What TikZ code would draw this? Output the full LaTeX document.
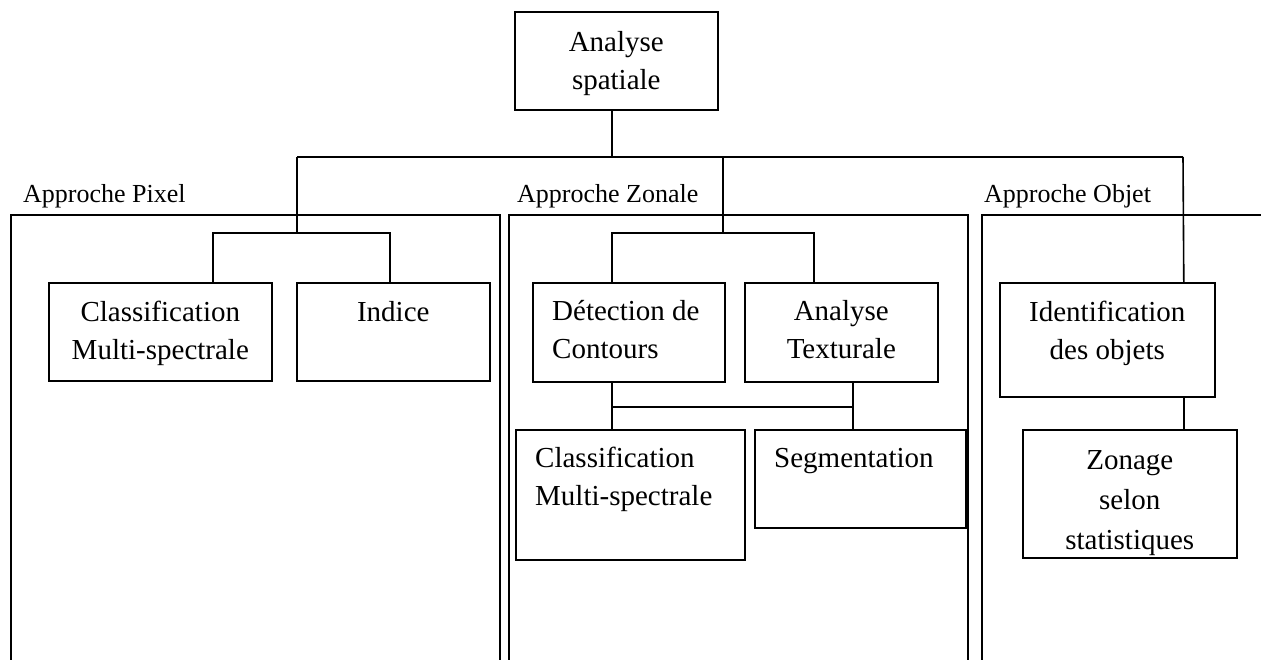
\documentclass[tikz,border=0pt]{standalone}
\usepackage{fontspec}
\setmainfont{Liberation Serif}
\begin{document}
\begin{tikzpicture}[x=1pt,y=-1pt,
  conn/.style={draw, line width=1.6pt},
  box/.style={draw, line width=1.6pt, inner sep=0pt, anchor=north west},
  txt/.style={font=\fontsize{29}{38}\selectfont, inner sep=0pt, align=center, anchor=north},
  ltxt/.style={font=\fontsize{29}{38}\selectfont, inner sep=0pt, align=left, anchor=north west},
  lab/.style={font=\fontsize{26}{30}\selectfont, inner sep=0pt, anchor=base west},
  frame/.style={draw, line width=1.6pt}]
\useasboundingbox (0,0) rectangle (1261,660);
\clip (0,0) rectangle (1261,660);

% panels (open at the bottom)
\draw[frame] (11,680) -- (11,215) -- (500,215) -- (500,680);
\draw[frame] (509,680) -- (509,215) -- (968,215) -- (968,680);
\draw[frame] (982,680) -- (982,215) -- (1280,215);
\node[lab] (lp) at (23,203) {Approche Pixel};
\node[lab] (lz) at (517,203) {Approche Zonale};
\node[lab] (lo) at (984,203) {Approche Objet};

% boxes
\node[box, minimum width=203pt, minimum height=98pt] (top) at (514,11) {};
\node[box, minimum width=223pt, minimum height=98pt] (cm1) at (48,282) {};
\node[box, minimum width=193pt, minimum height=98pt] (ind) at (296,282) {};
\node[box, minimum width=192pt, minimum height=99pt] (det) at (532,282) {};
\node[box, minimum width=193pt, minimum height=99pt] (tex) at (744,282) {};
\node[box, minimum width=229pt, minimum height=130pt] (cm2) at (515,429) {};
\node[box, minimum width=211pt, minimum height=98pt] (seg) at (754,429) {};
\node[box, minimum width=215pt, minimum height=114pt] (idt) at (999,282) {};
\node[box, minimum width=214pt, minimum height=128pt] (zon) at (1022,429) {};

% box texts
\node[txt] (ttop) at ([yshift=-14pt]top.north) {\strut Analyse\\spatiale};
\node[txt] (tcm1) at ([yshift=-13pt]cm1.north) {\strut Classification\\Multi-spectrale};
\node[txt] (tind) at ([yshift=-13pt]ind.north) {\strut Indice};
\node[ltxt] (tdet) at ([xshift=20pt,yshift=-12pt]det.north west) {\strut D\'etection de\\Contours};
\node[txt] (ttex) at ([yshift=-12pt]tex.north) {\strut Analyse\\Texturale};
\node[ltxt] (tcm2) at ([xshift=20pt,yshift=-12pt]cm2.north west) {\strut Classification\\Multi-spectrale};
\node[ltxt] (tseg) at ([xshift=20pt,yshift=-12pt]seg.north west) {\strut Segmentation};
\node[txt] (tidt) at ([yshift=-13pt]idt.north) {\strut Identification\\des objets};
\node[txt, font=\fontsize{29}{40}\selectfont] (tzon) at ([yshift=-12pt]zon.north) {\strut Zonage\\selon\\statistiques};

% bus coordinates
\coordinate (hp) at (297,157);
\coordinate (hz) at (723,157);
\coordinate (ho) at (1183,157);
\coordinate (pj) at (297,233);
\coordinate (zj) at (723,233);
\coordinate (zl) at (611,407);
\coordinate (zr) at (852,407);

% main bus
\path[conn] ([xshift=-4.5pt]top.south) -- ([xshift=-4.5pt]top.south |- hp);
\path[conn] (hp) -- (ho);

% pixel branch
\path[conn] (hp) -- (pj);
\path[conn] ([xshift=52.5pt]cm1.north) |- (pj) -| ([xshift=-3.5pt]ind.north);

% zonal branch
\path[conn] (hz) -- (zj);
\path[conn] ([xshift=-17pt]det.north) |- (zj) -| ([xshift=-27.5pt]tex.north);
\path[conn] ([xshift=-17pt]det.south) -- ([xshift=-18.5pt]cm2.north);
\path[conn] ([xshift=11.5pt]tex.south) -- ([xshift=-7.5pt]seg.north);
\path[conn] (zl) -- (zr);

% object branch
\path[conn] (ho) -- ([xshift=76.5pt]idt.north);
\path[conn] ([xshift=76.5pt]idt.south) -- ([xshift=54pt]zon.north);
\end{tikzpicture}
\end{document}
